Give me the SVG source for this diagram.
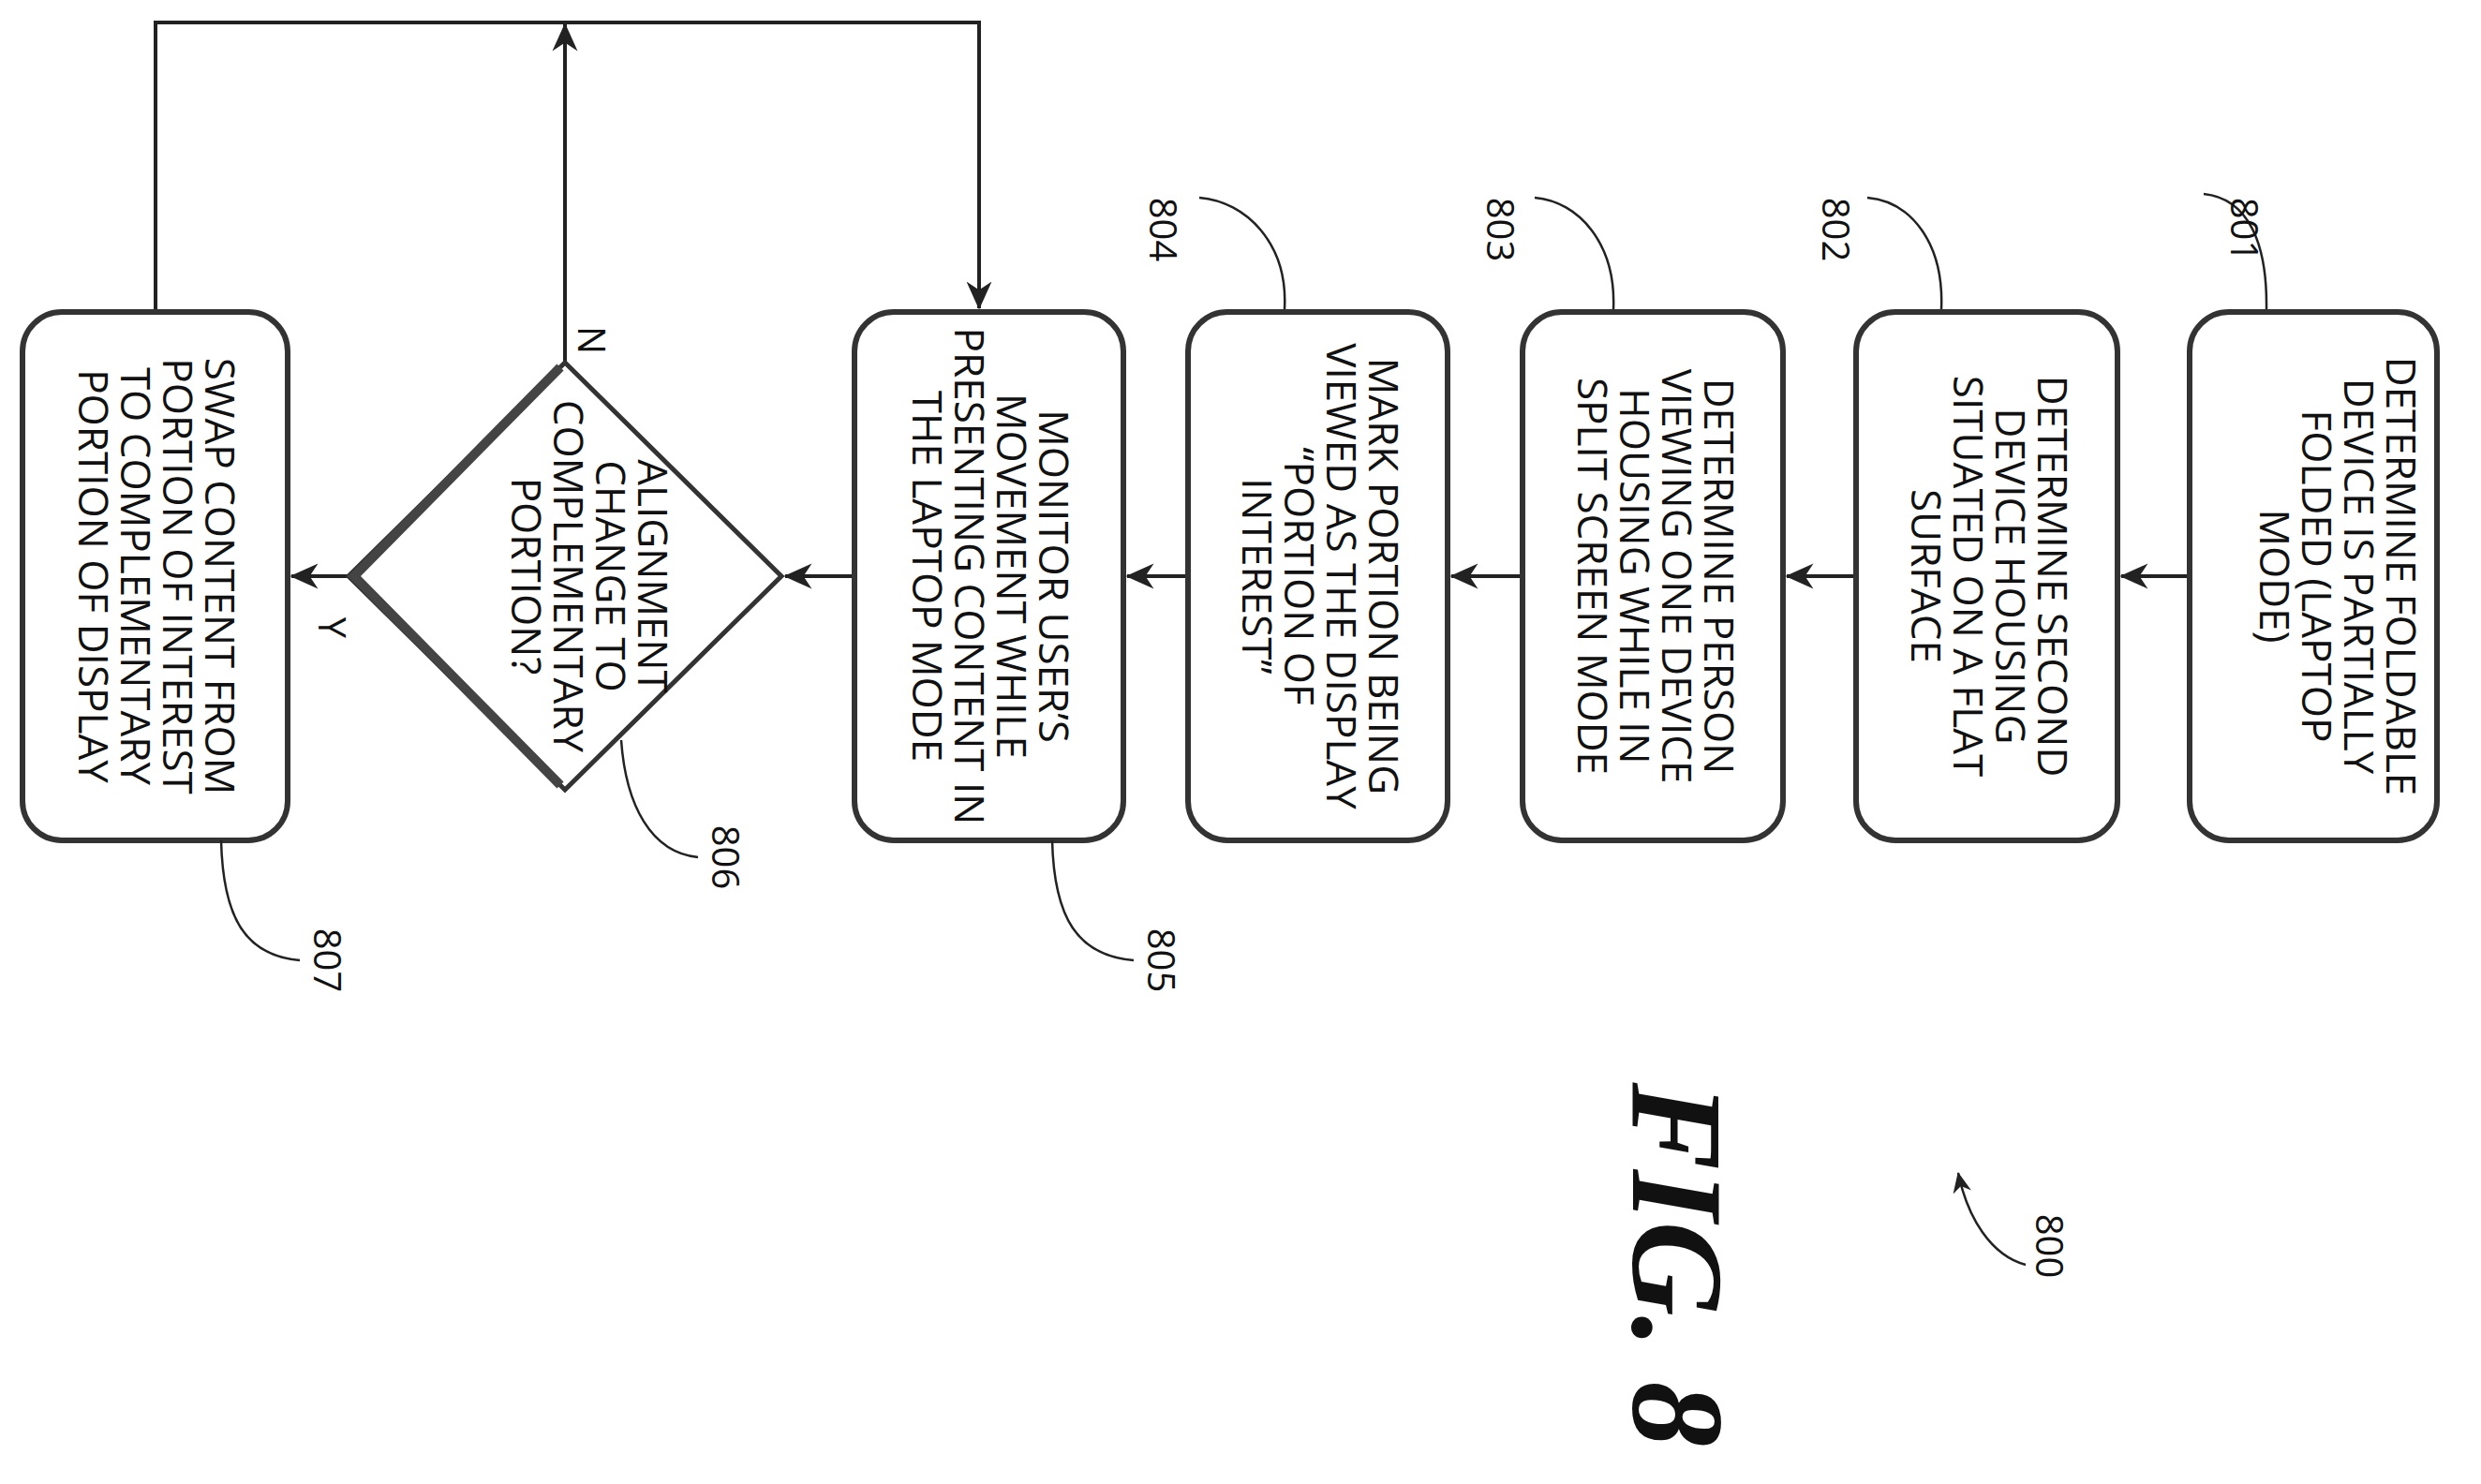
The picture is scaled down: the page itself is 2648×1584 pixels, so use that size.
<svg xmlns="http://www.w3.org/2000/svg" width="2648" height="1584" viewBox="0 0 2648 1584">
<style>
.box{fill:#fff;stroke:#333;stroke-width:6}
.t{font-family:"Open Sans","DejaVu Sans",sans-serif;font-size:44px;fill:#111;text-anchor:middle;dominant-baseline:central}
.lab{font-family:"Open Sans","DejaVu Sans",sans-serif;font-size:40px;fill:#111;text-anchor:middle;dominant-baseline:central}
.ln{fill:none;stroke:#222;stroke-width:4}
.ld{fill:none;stroke:#222;stroke-width:2.5}
</style>
<defs>
<marker id="ah" viewBox="0 0 20 20" refX="19" refY="10" markerWidth="30" markerHeight="30" markerUnits="userSpaceOnUse" orient="auto">
<path d="M0,1 L20,10 L0,19 L6,10 Z" fill="#222"/>
</marker>
<marker id="ah2" viewBox="0 0 20 20" refX="19" refY="10" markerWidth="22" markerHeight="22" markerUnits="userSpaceOnUse" orient="auto">
<path d="M0,1 L20,10 L0,19 L6,10 Z" fill="#222"/>
</marker>
</defs>
<g id="connectors">
<line class="ln" x1="2337" y1="615" x2="2264" y2="615" marker-end="url(#ah)"/>
<line class="ln" x1="1981" y1="615" x2="1907" y2="615" marker-end="url(#ah)"/>
<line class="ln" x1="1625" y1="615" x2="1549" y2="615" marker-end="url(#ah)"/>
<line class="ln" x1="1268" y1="615" x2="1203" y2="615" marker-end="url(#ah)"/>
<line class="ln" x1="912" y1="615" x2="838" y2="615" marker-end="url(#ah)"/>
<line class="ln" x1="372" y1="615" x2="311" y2="615" marker-end="url(#ah)"/>
<line class="ln" x1="603" y1="387" x2="603" y2="26" marker-end="url(#ah)"/>
<polyline class="ln" points="166,333 166,24 1045,24 1045,329" marker-end="url(#ah)"/>
<text class="lab" transform="translate(632,363) rotate(90)">N</text>
<text class="lab" transform="translate(355,670) rotate(90)">Y</text>
</g>
<g id="n801"><rect class="box" x="2337" y="333" width="264" height="564" rx="42"/>
<g transform="translate(2474,615) rotate(90)"><text class="t" y="-90">DETERMINE FOLDABLE</text><text class="t" y="-45">DEVICE IS PARTIALLY</text><text class="t" y="0">FOLDED (LAPTOP</text><text class="t" y="45">MODE)</text></g>
<path class="ld" d="M2352,207 C2400,212 2420,260 2419,330"/>
<text class="lab" transform="translate(2396,245) rotate(90)">801</text></g>
<g id="n802"><rect class="box" x="1981" y="333" width="279" height="564" rx="42"/>
<g transform="translate(2124,615) rotate(90)"><text class="t" y="-68">DETERMINE SECOND</text><text class="t" y="-23">DEVICE HOUSING</text><text class="t" y="22">SITUATED ON A FLAT</text><text class="t" y="67">SURFACE</text></g>
<path class="ld" d="M1993,211 C2040,215 2075,260 2072,330"/>
<text class="lab" transform="translate(1960,245) rotate(90)">802</text></g>
<g id="n803"><rect class="box" x="1625" y="333" width="278" height="564" rx="42"/>
<g transform="translate(1768,615) rotate(90)"><text class="t" y="-68">DETERMINE PERSON</text><text class="t" y="-23">VIEWING ONE DEVICE</text><text class="t" y="22">HOUSING WHILE IN</text><text class="t" y="67">SPLIT SCREEN MODE</text></g>
<path class="ld" d="M1638,211 C1685,215 1725,260 1722,330"/>
<text class="lab" transform="translate(1602,245) rotate(90)">803</text></g>
<g id="n804"><rect class="box" x="1268" y="333" width="277" height="564" rx="42"/>
<g transform="translate(1410,615) rotate(90)"><text class="t" y="-68">MARK PORTION BEING</text><text class="t" y="-23">VIEWED AS THE DISPLAY</text><text class="t" y="22">“PORTION OF</text><text class="t" y="67">INTEREST”</text></g>
<path class="ld" d="M1280,211 C1330,215 1375,260 1371,330"/>
<text class="lab" transform="translate(1242,245) rotate(90)">804</text></g>
<g id="n805"><rect class="box" x="912" y="333" width="287" height="564" rx="42"/>
<g transform="translate(1058,615) rotate(90)"><text class="t" y="-68">MONITOR USER’S</text><text class="t" y="-23">MOVEMENT WHILE</text><text class="t" y="22">PRESENTING CONTENT IN</text><text class="t" y="67">THE LAPTOP MODE</text></g>
<path class="ld" d="M1123,897 C1125,980 1150,1020 1210,1025"/>
<text class="lab" transform="translate(1240,1025) rotate(90)">805</text></g>
<g id="n806"><polygon points="603,387 834,615 603,843 372,615" fill="#fff" stroke="#333" stroke-width="5"/>
<polyline points="598,392 378,615 598,838" fill="none" stroke="#444" stroke-width="10"/>
<g transform="translate(630,615) rotate(90)"><text class="t" y="-68">ALIGNMENT</text><text class="t" y="-23">CHANGE TO</text><text class="t" y="22">COMPLEMENTARY</text><text class="t" y="67">PORTION?</text></g>
<path class="ld" d="M663,790 C668,860 695,910 745,915"/>
<text class="lab" transform="translate(775,915) rotate(90)">806</text></g>
<g id="n807"><rect class="box" x="24" y="333" width="283" height="564" rx="42"/>
<g transform="translate(168,615) rotate(90)"><text class="t" y="-68">SWAP CONTENT FROM</text><text class="t" y="-23">PORTION OF INTEREST</text><text class="t" y="22">TO COMPLEMENTARY</text><text class="t" y="67">PORTION OF DISPLAY</text></g>
<path class="ld" d="M236,897 C238,980 262,1020 320,1025"/>
<text class="lab" transform="translate(350,1025) rotate(90)">807</text></g>
<g id="n800">
<path class="ld" d="M2162,1350 C2125,1340 2100,1300 2090,1252" marker-end="url(#ah2)"/>
<text class="lab" transform="translate(2188,1330) rotate(90)">800</text>
<text transform="translate(1790,1350) rotate(90)" style="font-family:'Liberation Serif',serif;font-size:140px;font-weight:bold;font-style:italic;text-anchor:middle;dominant-baseline:central;fill:#111">FIG. 8</text>
</g>
</svg>
